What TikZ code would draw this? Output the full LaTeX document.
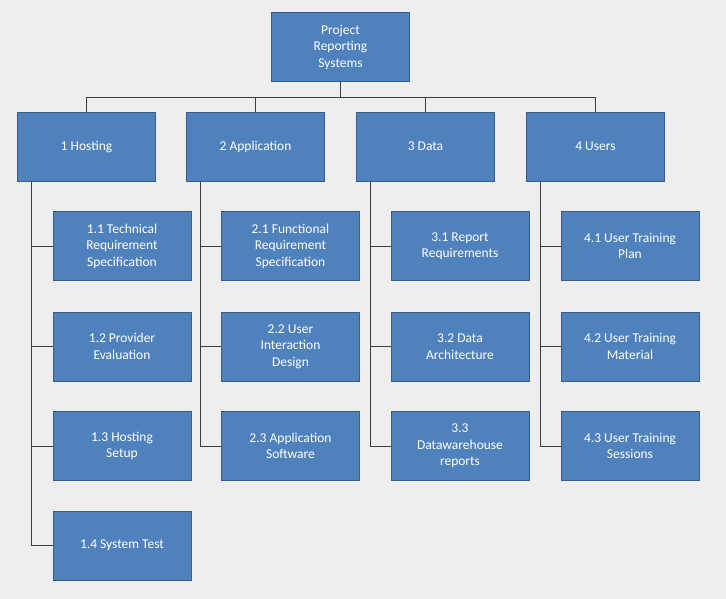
\documentclass[tikz,border=0pt]{standalone}
\usepackage{fontspec}
\setmainfont{Carlito}
\definecolor{bg}{RGB}{238,238,238}
\definecolor{boxf}{RGB}{79,129,189}
\definecolor{boxd}{RGB}{56,93,138}
\definecolor{ln}{RGB}{60,60,60}
\begin{document}
\begin{tikzpicture}[x=1pt,y=-1pt,
 wb/.style={draw=boxd,fill=boxf,text=white,minimum width=138pt,minimum height=69pt,align=center,inner sep=2pt,font=\fontsize{13.5}{16.5}\selectfont},
 con/.style={draw=ln,line width=0.9pt}]
\fill[bg] (0,0) rectangle (726,599);
\useasboundingbox (0,0) rectangle (726,599);
\node[wb] (top) at (340.5,47) {Project\\Reporting\\Systems};
\node[wb] (a) at (86.5,146.5) {1 Hosting};
\node[wb] (b) at (255.5,146.5) {2 Application};
\node[wb] (c) at (425.5,146.5) {3 Data};
\node[wb] (d) at (595.5,146.5) {4 Users};
\node[wb] (a1) at (122,246) {1.1 Technical\\Requirement\\Specification};
\node[wb] (a2) at (122,346.5) {1.2 Provider\\Evaluation};
\node[wb] (a3) at (122,446) {1.3 Hosting\\Setup};
\node[wb] (a4) at (122,545.5) {1.4 System Test};
\node[wb] (b1) at (290.5,246) {2.1 Functional\\Requirement\\Specification};
\node[wb] (b2) at (290.5,346.5) {2.2 User\\Interaction\\Design};
\node[wb] (b3) at (290.5,446) {2.3 Application\\Software};
\node[wb] (c1) at (460,246) {3.1 Report\\Requirements};
\node[wb] (c2) at (460,346.5) {3.2 Data\\Architecture};
\node[wb] (c3) at (460,446) {3.3\\Datawarehouse\\reports};
\node[wb] (d1) at (630,246) {4.1 User Training\\Plan};
\node[wb] (d2) at (630,346.5) {4.2 User Training\\Material};
\node[wb] (d3) at (630,446) {4.3 User Training\\Sessions};
\coordinate (bus) at (340.5,97);
\begin{scope}[on background layer/.try]
\end{scope}
\foreach \p in {a,b,c,d}{\draw[con] (top.south) |- (bus) -| (\p.north);}
\foreach \p/\k in {a/a1,a/a2,a/a3,a/a4,b/b1,b/b2,b/b3,c/c1,c/c2,c/c3,d/d1,d/d2,d/d3}{
 \draw[con] ([xshift=-55.5pt]\p.south) |- (\k.west);}
\end{tikzpicture}
\end{document}
